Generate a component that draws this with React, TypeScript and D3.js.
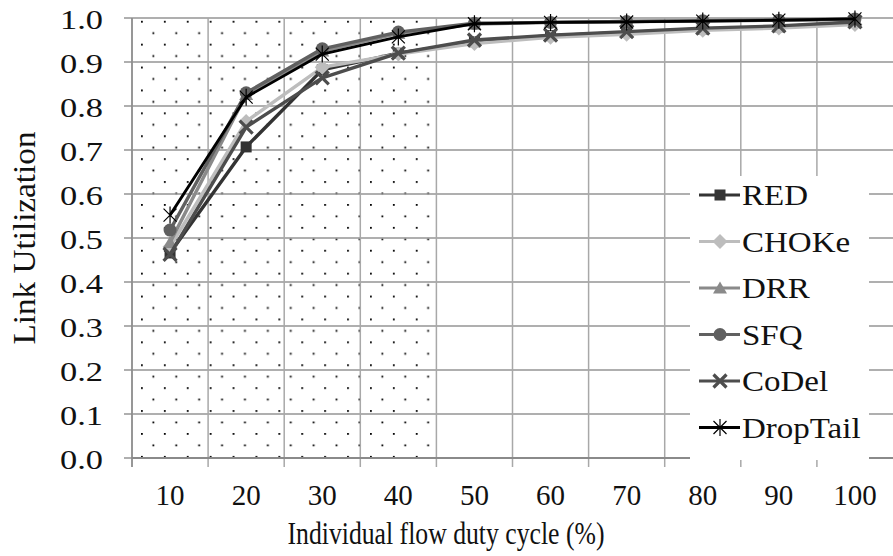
import { useEffect, useRef } from 'react';
import * as d3 from 'd3';

const CATEGORIES = ['10', '20', '30', '40', '50', '60', '70', '80', '90', '100'];
const Y_TICKS = [0, 0.1, 0.2, 0.3, 0.4, 0.5, 0.6, 0.7, 0.8, 0.9, 1.0];

const RED = [0.466, 0.707, 0.882, 0.92, 0.946, 0.96, 0.967, 0.975, 0.98, 0.99];
const CHOKE = [0.48, 0.765, 0.888, 0.918, 0.942, 0.956, 0.963, 0.972, 0.977, 0.985];
const DRR = [0.49, 0.826, 0.925, 0.965, 0.986, 0.99, 0.992, 0.993, 0.995, 0.997];
const SFQ = [0.518, 0.83, 0.93, 0.968, 0.988, 0.99, 0.992, 0.994, 0.995, 0.998];
const CODEL = [0.463, 0.752, 0.864, 0.92, 0.95, 0.961, 0.969, 0.977, 0.982, 0.991];
const DROPTAIL = [0.552, 0.82, 0.918, 0.957, 0.987, 0.99, 0.991, 0.993, 0.995, 0.998];

const SERIES = [
  { name: 'RED', values: RED, color: '#333333', marker: 'square' },
  { name: 'CHOKe', values: CHOKE, color: '#bdbdbd', marker: 'diamond' },
  { name: 'DRR', values: DRR, color: '#8a8a8a', marker: 'triangle' },
  { name: 'SFQ', values: SFQ, color: '#606060', marker: 'circle' },
  { name: 'CoDel', values: CODEL, color: '#4d4d4d', marker: 'x' },
  { name: 'DropTail', values: DROPTAIL, color: '#000000', marker: 'star' },
];

const DOTTED = ['10', '20', '30', '40'];

const W = 893;
const H = 556;
const FONT = 'Liberation Serif';

function drawMarker(g: d3.Selection<SVGGElement, unknown, null, undefined>, kind: string, color: string, x: number, y: number) {
  const m = g.append('g').attr('transform', `translate(${x},${y})`);
  if (kind === 'square') {
    m.append('rect').attr('x', -5.5).attr('y', -5.5).attr('width', 11).attr('height', 11).attr('fill', color);
  } else if (kind === 'diamond') {
    m.append('path').attr('d', 'M0,-7.5L7.5,0L0,7.5L-7.5,0Z').attr('fill', color);
  } else if (kind === 'triangle') {
    m.append('path').attr('d', 'M0,-6.5L7,5.5L-7,5.5Z').attr('fill', color);
  } else if (kind === 'circle') {
    m.append('circle').attr('r', 6.5).attr('fill', color);
  } else if (kind === 'x') {
    m.append('path').attr('d', 'M-6.5,-6.5L6.5,6.5M-6.5,6.5L6.5,-6.5').attr('stroke', color).attr('stroke-width', 3.2);
  } else if (kind === 'star') {
    m.append('path')
      .attr('d', 'M-6.5,-6.5L6.5,6.5M-6.5,6.5L6.5,-6.5M0,-8.5L0,8.5')
      .attr('stroke', color)
      .attr('stroke-width', 1.2);
  }
}

export default function App() {
  const svgRef = useRef<SVGSVGElement>(null);

  useEffect(() => {
    const svg = d3.select(svgRef.current);
    svg.selectAll('*').remove();

    const left = 132;
    const right = 893;
    const top = 18;
    const bottom = 458;

    const x = d3.scaleBand().domain(CATEGORIES).range([left, right]).padding(0);
    const y = d3.scaleLinear().domain([0, 1]).range([bottom, top]);

    svg.append('rect').attr('width', W).attr('height', H).attr('fill', '#ffffff');

    // dotted pattern for the shaded region
    const defs = svg.append('defs');
    const pat = defs
      .append('pattern')
      .attr('id', 'dots')
      .attr('patternUnits', 'userSpaceOnUse')
      .attr('x', 141)
      .attr('y', 204)
      .attr('width', 22.9)
      .attr('height', 22.9);
    pat.append('rect').attr('x', 0).attr('y', 0).attr('width', 1.8).attr('height', 1.8).attr('fill', '#000');
    pat.append('rect').attr('x', 11.45).attr('y', 11.45).attr('width', 1.8).attr('height', 1.8).attr('fill', '#000');

    const dx0 = x(DOTTED[0])!;
    const dx1 = x(DOTTED[DOTTED.length - 1])! + x.bandwidth();
    svg.append('rect')
      .attr('x', dx0)
      .attr('y', top)
      .attr('width', dx1 - dx0)
      .attr('height', bottom - top)
      .attr('fill', 'url(#dots)');

    // grid
    const grid = svg.append('g');
    Y_TICKS.slice(1).forEach((t) => {
      grid.append('line')
        .attr('x1', left).attr('x2', right)
        .attr('y1', y(t)).attr('y2', y(t))
        .attr('stroke', '#959595').attr('stroke-width', 1.5);
    });
    CATEGORIES.forEach((c) => {
      grid.append('line')
        .attr('x1', x(c)!).attr('x2', x(c)!)
        .attr('y1', top).attr('y2', bottom + 9)
        .attr('stroke', '#a8a8a8').attr('stroke-width', 1.5);
    });

    const txt = (sel: d3.Selection<SVGTextElement, unknown, null, undefined>, size: number) =>
      sel.style('font-family', FONT).style('font-size', `${size}px`).attr('fill', '#111');

    // y axis ticks
    Y_TICKS.forEach((t) => {
      svg.append('line')
        .attr('x1', left - 8).attr('x2', left)
        .attr('y1', y(t)).attr('y2', y(t))
        .attr('stroke', '#959595').attr('stroke-width', 1.5);
      svg.append('text')
        .attr('x', 103)
        .attr('y', y(t) + 11)
        .attr('text-anchor', 'end')
        .attr('textLength', 43)
        .attr('lengthAdjust', 'spacingAndGlyphs')
        .call(txt, 28)
        .text(t.toFixed(1));
    });

    // series
    const line = d3.line<number>()
      .x((_, i) => x(CATEGORIES[i])! + x.bandwidth() / 2)
      .y((d) => y(d));

    SERIES.forEach((s) => {
      svg.append('path')
        .attr('d', line(s.values))
        .attr('fill', 'none')
        .attr('stroke', s.color)
        .attr('stroke-width', s.marker === 'star' ? 2.8 : 3.4)
        .attr('stroke-linejoin', 'round');
      const mg = svg.append('g');
      s.values.forEach((v, i) => {
        drawMarker(mg, s.marker, s.color, x(CATEGORIES[i])! + x.bandwidth() / 2, y(v));
      });
    });

    // x axis line
    svg.append('line')
      .attr('x1', left).attr('x2', right)
      .attr('y1', bottom).attr('y2', bottom)
      .attr('stroke', '#8a8a8a').attr('stroke-width', 2);
    svg.append('line')
      .attr('x1', left).attr('x2', left)
      .attr('y1', top).attr('y2', bottom + 9)
      .attr('stroke', '#8a8a8a').attr('stroke-width', 1.5);

    // legend
    const lg = svg.append('g');
    lg.append('rect').attr('x', 690).attr('y', 176).attr('width', 179).attr('height', 284).attr('fill', '#ffffff');
    SERIES.forEach((s, i) => {
      const by = 205 + i * 46.5;
      const cy = by - 10;
      lg.append('line')
        .attr('x1', 699).attr('x2', 740)
        .attr('y1', cy).attr('y2', cy)
        .attr('stroke', s.color).attr('stroke-width', 3);
      drawMarker(lg, s.marker, s.color, 720, cy);
      lg.append('text')
        .attr('transform', `translate(742,${by}) scale(1.1,1)`)
        .call(txt, 30)
        .text(s.name);
    });

    // x tick labels
    CATEGORIES.forEach((c) => {
      svg.append('text')
        .attr('x', x(c)! + x.bandwidth() / 2)
        .attr('y', 505)
        .attr('text-anchor', 'middle')
        .call(txt, 29)
        .text(c);
    });

    // axis titles
    svg.append('text')
      .attr('x', 446)
      .attr('y', 544)
      .attr('text-anchor', 'middle')
      .attr('textLength', 317)
      .attr('lengthAdjust', 'spacingAndGlyphs')
      .call(txt, 31)
      .text('Individual flow duty cycle (%)');

    svg.append('text')
      .attr('transform', 'translate(35,238) rotate(-90)')
      .attr('text-anchor', 'middle')
      .attr('textLength', 213)
      .attr('lengthAdjust', 'spacingAndGlyphs')
      .call(txt, 31)
      .text('Link Utilization');
  }, []);

  return (
    <div style={{ position: 'absolute', left: 0, top: 0 }}>
      <svg ref={svgRef} width={W} height={H} style={{ display: 'block' }} />
    </div>
  );
}
